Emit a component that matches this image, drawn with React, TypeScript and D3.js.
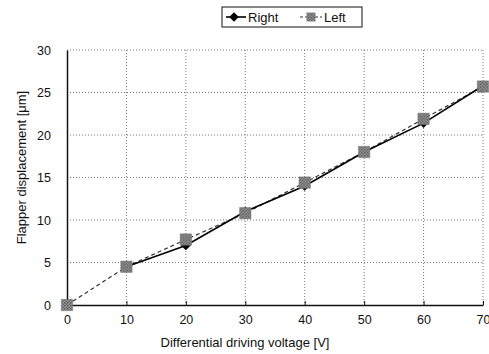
import { useEffect, useRef } from "react";
import * as d3 from "d3";

const voltages = [0, 10, 20, 30, 40, 50, 60, 70];
// the Right series has no point drawn at 0 V in the reference
const rightValues: (number | null)[] = [null, 4.5, 7.0, 11.0, 14.0, 18.0, 21.4, 25.8];
const leftValues: (number | null)[] = [0, 4.5, 7.7, 10.8, 14.4, 18.0, 21.9, 25.7];
const yTicks = [0, 5, 10, 15, 20, 25, 30];
const seriesNames = ["Right", "Left"];

export default function App() {
  const ref = useRef<SVGSVGElement>(null);

  useEffect(() => {
    if (!ref.current) return;
    const svg = d3.select(ref.current);
    svg.selectAll("*").remove();

    const width = 489;
    const height = 354;
    const margin = { top: 50, right: 6, bottom: 49, left: 67 };
    const innerWidth = width - margin.left - margin.right;
    const innerHeight = height - margin.top - margin.bottom;
    const font = "Arial, 'Liberation Sans', sans-serif";

    const x = d3.scaleLinear().domain([0, 70]).range([0, innerWidth]);
    const y = d3.scaleLinear().domain([0, 30]).range([innerHeight, 0]);

    const g = svg
      .append("g")
      .attr("transform", `translate(${margin.left},${margin.top})`);

    // hatched fill for the "Left" squares
    const defs = svg.append("defs");
    const pat = defs
      .append("pattern")
      .attr("id", "hatch")
      .attr("patternUnits", "userSpaceOnUse")
      .attr("width", 3)
      .attr("height", 3);
    pat.append("rect").attr("width", 3).attr("height", 3).attr("fill", "#9a9a9a");
    pat.append("rect").attr("width", 1.5).attr("height", 1.5).attr("fill", "#555");
    pat
      .append("rect")
      .attr("x", 1.5)
      .attr("y", 1.5)
      .attr("width", 1.5)
      .attr("height", 1.5)
      .attr("fill", "#666");

    // grid
    g.selectAll("line.hgrid")
      .data(yTicks.filter((d) => d > 0))
      .join("line")
      .attr("x1", 0)
      .attr("x2", innerWidth)
      .attr("y1", (d) => y(d))
      .attr("y2", (d) => y(d))
      .attr("stroke", "#555")
      .attr("stroke-width", 0.8)
      .attr("stroke-dasharray", "1,2");

    g.selectAll("line.vgrid")
      .data(voltages.filter((d) => d > 0))
      .join("line")
      .attr("x1", (d) => x(d))
      .attr("x2", (d) => x(d))
      .attr("y1", 0)
      .attr("y2", innerHeight)
      .attr("stroke", "#555")
      .attr("stroke-width", 0.8)
      .attr("stroke-dasharray", "1,2");

    // axes
    const xAxis = g
      .append("g")
      .attr("transform", `translate(0,${innerHeight})`)
      .call(
        d3
          .axisBottom(x)
          .tickValues(voltages)
          .tickSize(-4)
          .tickPadding(10)
          .tickSizeOuter(0)
      );
    const yAxis = g.append("g").call(
      d3.axisLeft(y).tickValues(yTicks).tickSize(0).tickPadding(16).tickSizeOuter(0)
    );
    [xAxis, yAxis].forEach((ax) => {
      ax.select(".domain").attr("stroke", "#111").attr("stroke-width", 1.5);
      ax.selectAll("line").attr("stroke", "#111");
      ax.selectAll("text")
        .style("font-family", font)
        .style("font-size", "12.5px")
        .attr("fill", "#111");
    });

    // axis titles
    svg
      .append("text")
      .attr("x", margin.left + innerWidth / 2 - 30)
      .attr("y", 347)
      .attr("text-anchor", "middle")
      .style("font-family", font)
      .style("font-size", "13px")
      .attr("fill", "#111")
      .text("Differential driving voltage [V]");

    svg
      .append("text")
      .attr("transform", `translate(26,${margin.top + innerHeight / 2 - 10}) rotate(-90)`)
      .attr("text-anchor", "middle")
      .style("font-family", font)
      .style("font-size", "13px")
      .attr("fill", "#111")
      .text("Flapper displacement [μm]");

    // lines
    const line = d3
      .line<number | null>()
      .defined((d) => d !== null)
      .x((_, i) => x(voltages[i]))
      .y((d) => y(d as number));

    g.append("path")
      .datum(leftValues)
      .attr("d", line)
      .attr("fill", "none")
      .attr("stroke", "#333")
      .attr("stroke-width", 1.2)
      .attr("stroke-dasharray", "4,3");

    g.append("path")
      .datum(rightValues)
      .attr("d", line)
      .attr("fill", "none")
      .attr("stroke", "#000")
      .attr("stroke-width", 1.6);

    const diamond = d3.symbol().type(d3.symbolDiamond2).size(60);
    const square = d3.symbol().type(d3.symbolSquare).size(130);

    const rightPts = voltages
      .map((v, i) => ({ v, d: rightValues[i] }))
      .filter((p) => p.d !== null);
    const leftPts = voltages
      .map((v, i) => ({ v, d: leftValues[i] }))
      .filter((p) => p.d !== null);

    g.selectAll("path.right")
      .data(rightPts)
      .join("path")
      .attr("d", diamond)
      .attr("transform", (p) => `translate(${x(p.v)},${y(p.d as number)})`)
      .attr("fill", "#000");

    g.selectAll("path.left")
      .data(leftPts)
      .join("path")
      .attr("d", square)
      .attr("transform", (p) => `translate(${x(p.v)},${y(p.d as number)})`)
      .attr("fill", "url(#hatch)")
      .attr("stroke", "#777")
      .attr("stroke-width", 0.5);

    // legend
    const lg = svg.append("g").attr("transform", "translate(222,7)");
    lg.append("rect")
      .attr("width", 140)
      .attr("height", 20)
      .attr("fill", "#fff")
      .attr("stroke", "#111")
      .attr("stroke-width", 1);

    lg.append("line")
      .attr("x1", 4)
      .attr("x2", 24)
      .attr("y1", 10)
      .attr("y2", 10)
      .attr("stroke", "#000")
      .attr("stroke-width", 1.6);
    lg.append("path")
      .attr("d", diamond)
      .attr("transform", "translate(12,10)")
      .attr("fill", "#000");
    lg.append("text")
      .attr("x", 26)
      .attr("y", 14.5)
      .style("font-family", font)
      .style("font-size", "13px")
      .attr("fill", "#111")
      .text(seriesNames[0]);

    lg.append("line")
      .attr("x1", 78)
      .attr("x2", 100)
      .attr("y1", 10)
      .attr("y2", 10)
      .attr("stroke", "#333")
      .attr("stroke-width", 1.2)
      .attr("stroke-dasharray", "3,2");
    lg.append("path")
      .attr("d", d3.symbol().type(d3.symbolSquare).size(80))
      .attr("transform", "translate(89,10)")
      .attr("fill", "url(#hatch)");
    lg.append("text")
      .attr("x", 102)
      .attr("y", 14.5)
      .style("font-family", font)
      .style("font-size", "13px")
      .attr("fill", "#111")
      .text(seriesNames[1]);
  }, []);

  return (
    <svg
      ref={ref}
      width={489}
      height={354}
      style={{ position: "absolute", left: 0, top: 0, background: "#fff" }}
    />
  );
}
